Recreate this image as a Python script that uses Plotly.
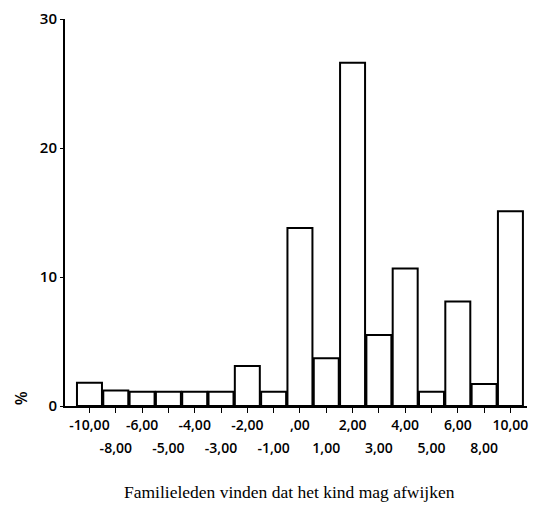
import plotly.graph_objects as go

# Score categories and the percentage of respondents in each
categories = ["-10,00", "-8,00", "-6,00", "-5,00", "-4,00", "-3,00", "-2,00", "-1,00",
              ",00", "1,00", "2,00", "3,00", "4,00", "5,00", "6,00", "8,00", "10,00"]
percentages = [1.8, 1.2, 1.1, 1.1, 1.1, 1.1, 3.1, 1.1,
               13.8, 3.7, 26.6, 5.5, 10.65, 1.1, 8.1, 1.7, 15.1]
y_ticks = [0, 10, 20, 30]
x_title = "Familieleden vinden dat het kind mag afwijken"
y_title = "%"

positions = list(range(len(categories)))
# Tick labels are staggered over two rows: even categories on the first row,
# odd categories on a second, lower row
row2_pos = positions[1::2]
row2_text = categories[1::2]

x_range = [-0.93, 16.63]
tick_font = dict(family="Open Sans", size=14, color="black", weight=600)

fig = go.Figure()
fig.add_trace(go.Bar(
    x=positions,
    y=percentages,
    width=0.95,
    marker=dict(color="white", line=dict(color="black", width=2)),
    xaxis="x", yaxis="y",
))
# Invisible helper trace so the second-row label axis is drawn
fig.add_trace(go.Scatter(
    x=row2_pos, y=[0] * len(row2_pos), mode="markers",
    marker=dict(opacity=0), hoverinfo="skip", xaxis="x2", yaxis="y",
))

fig.update_layout(
    width=533, height=515,
    margin=dict(l=65, r=6, t=19, b=109),
    paper_bgcolor="white", plot_bgcolor="white",
    showlegend=False,
    font=dict(family="Open Sans", color="black"),
    xaxis=dict(
        range=x_range,
        tickvals=positions,
        ticktext=[c if i % 2 == 0 else "" for i, c in enumerate(categories)],
        ticks="outside", ticklen=5, tickwidth=1, tickcolor="black",
        showline=True, linecolor="black", linewidth=2,
        showgrid=False, zeroline=False,
        tickfont=tick_font, tickangle=0, ticklabelstandoff=0,
    ),
    xaxis2=dict(
        range=x_range, overlaying="x", anchor="y", side="bottom",
        tickvals=row2_pos, ticktext=row2_text,
        ticks="", showline=False, showgrid=False, zeroline=False,
        tickfont=tick_font, tickangle=0, ticklabelstandoff=32,
    ),
    yaxis=dict(
        range=[0, 30],
        tickvals=y_ticks,
        ticks="outside", ticklen=3, tickwidth=1, tickcolor="black",
        showline=True, linecolor="black", linewidth=2,
        showgrid=False, zeroline=False,
        tickfont=dict(family="Open Sans", size=15, color="black", weight=600),
        ticklabelstandoff=0,
    ),
    annotations=[
        dict(text=x_title, xref="paper", yref="paper", x=0.486, y=-0.222,
             xanchor="center", yanchor="middle", showarrow=False,
             font=dict(family="Liberation Serif", size=17.5, color="black")),
        dict(text=y_title, xref="paper", yref="paper", x=-0.095, y=0.02,
             xanchor="center", yanchor="middle", showarrow=False, textangle=-90,
             font=dict(family="Open Sans", size=16, color="black", weight=600)),
    ],
)

fig.write_html("out.html")
